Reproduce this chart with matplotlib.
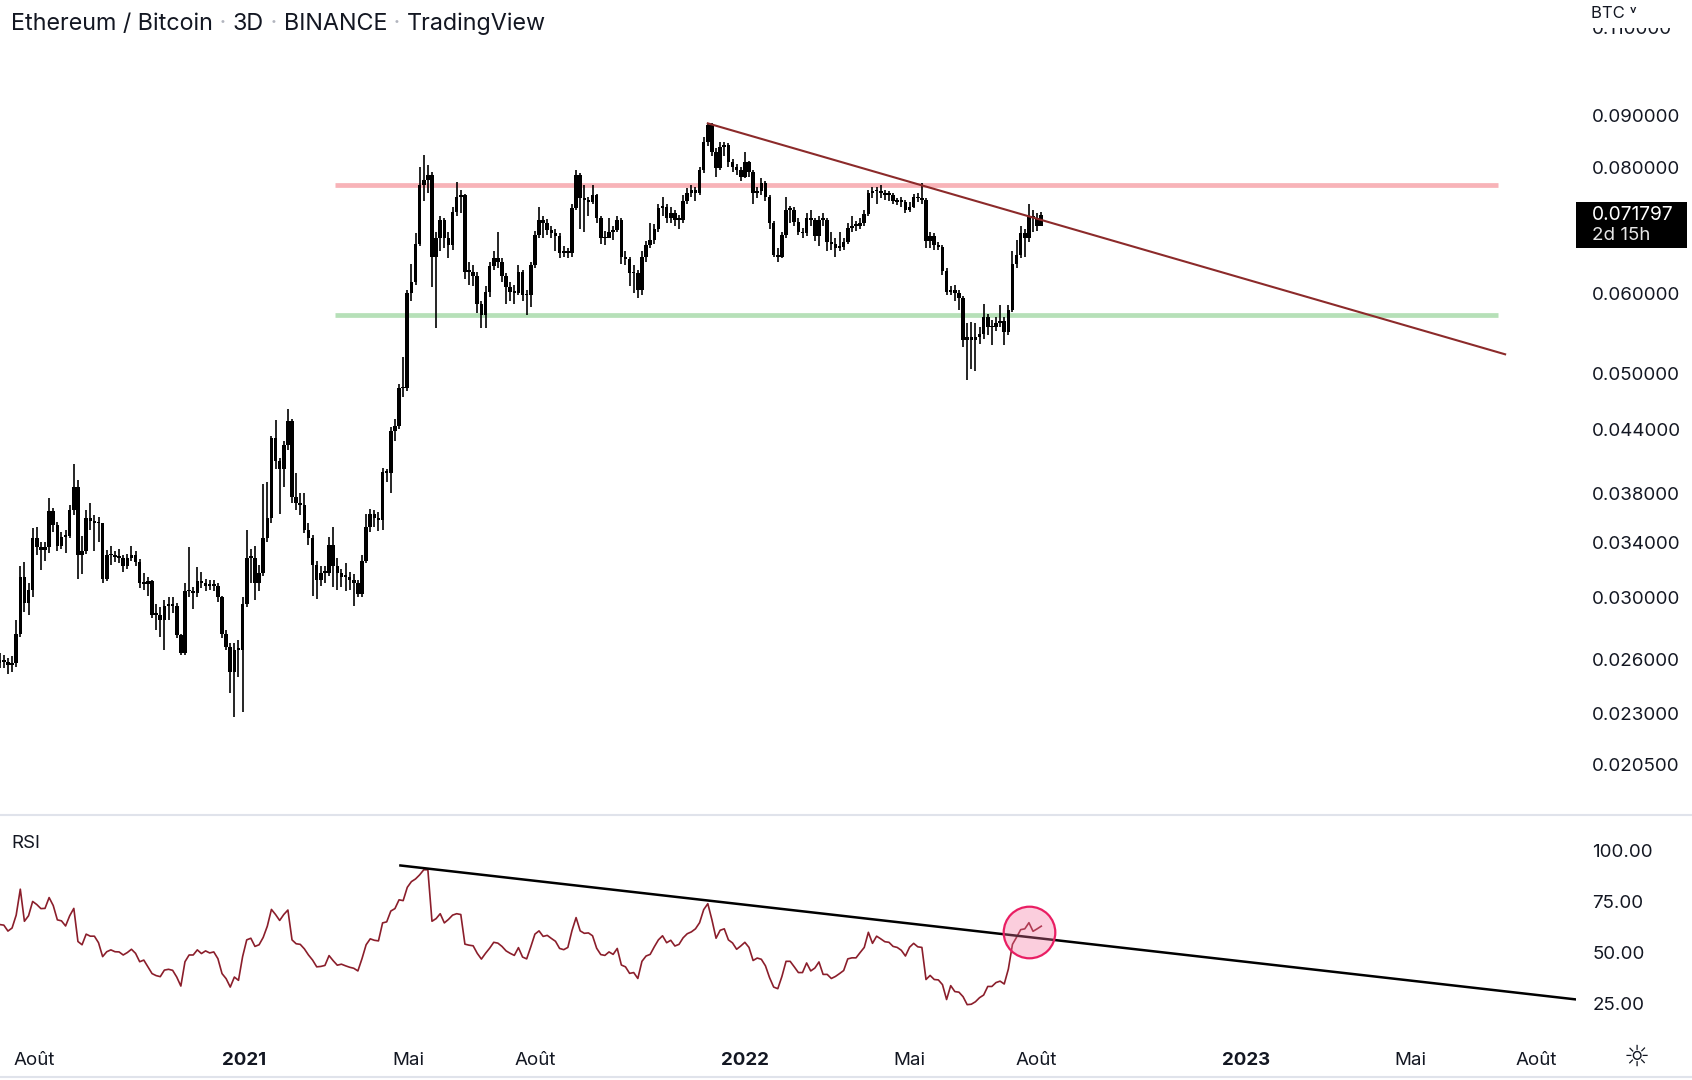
import matplotlib
matplotlib.use("Agg")
import matplotlib.pyplot as plt
import matplotlib.dates as mdates
from matplotlib.patches import Rectangle
from matplotlib.lines import Line2D
from matplotlib.ticker import NullLocator, NullFormatter
import numpy as np
import pandas as pd

plt.rcParams['font.family'] = ['Inter', 'DejaVu Sans']

# ---------------- data ----------------
first_candle = "2020-07-07"
first_open = 0.0258

closes = [
    .0260, .0259, .0257, .0258, .0276, .0314, .0296, .0305, .0343, .0336,
    .0334, .0336, .0365, .0354, .0337, .0344, .0345, .0366, .0386, .0330,
    .0333, .0359, .0357, .0355, .0355, .0313, .0330, .0330, .0329, .0328,
    .0322, .0328, .0330, .0325, .0310, .0309, .0311, .0288, .0288, .0285,
    .0294, .0294, .0294, .0275, .0264, .0304, .0304, .0303, .0311, .0310,
    .0308, .0309, .0308, .0300, .0276, .0268, .0253, .0266, .0266, .0295,
    .0328, .0328, .0310, .0317, .0343, .0359, .0431, .0409, .0402, .0424,
    .0448, .0377, .0372, .0370, .0350, .0343, .0323, .0312, .0317, .0317,
    .0338, .0322, .0317, .0314, .0314, .0312, .0310, .0302, .0326, .0352,
    .0363, .0359, .0358, .0399, .0398, .0438, .0443, .0483, .0483, .0600,
    .0616, .0672, .0768, .0777, .0786, .0652, .0680, .0709, .0680, .0670,
    .0723, .0748, .0750, .0630, .0630, .0624, .0586, .0571, .0602, .0638,
    .0650, .0645, .0624, .0609, .0602, .0600, .0630, .0598, .0597, .0640,
    .0685, .0709, .0704, .0693, .0688, .0683, .0657, .0660, .0657, .0729,
    .0786, .0745, .0743, .0739, .0751, .0712, .0680, .0681, .0690, .0693,
    .0709, .0651, .0649, .0628, .0629, .0605, .0651, .0670, .0678, .0695,
    .0729, .0731, .0712, .0721, .0709, .0709, .0741, .0754, .0760, .0754,
    .0795, .0848, .0881, .0829, .0798, .0838, .0841, .0809, .0800, .0795,
    .0783, .0809, .0791, .0754, .0757, .0771, .0748, .0704, .0655, .0651,
    .0685, .0726, .0726, .0706, .0690, .0688, .0712, .0709, .0683, .0709,
    .0709, .0674, .0672, .0665, .0667, .0674, .0697, .0700, .0700, .0704,
    .0719, .0754, .0757, .0757, .0754, .0751, .0751, .0741, .0739, .0739,
    .0726, .0731, .0747, .0745, .0743, .0676, .0683, .0670, .0667, .0631,
    .0602, .0604, .0600, .0593, .0539, .0543, .0539, .0543, .0547, .0569,
    .0555, .0555, .0561, .0563, .0549, .0578, .0642, .0655, .0688, .0680,
    .0716, .0712, .0700, .071797,
]

highs = [
    .0264, .0263, .0261, .0262, .0285, .0322, .0325, .0310, .0351, .0352,
    .0340, .0340, .0376, .0368, .0356, .0348, .0350, .0370, .0406, .0392,
    .0345, .0366, .0372, .0362, .0360, .0343, .0334, .0337, .0333, .0335,
    .0330, .0331, .0337, .0333, .0327, .0317, .0314, .0312, .0295, .0293,
    .0298, .0300, .0300, .0296, .0276, .0310, .0336, .0307, .0321, .0318,
    .0313, .0312, .0312, .0310, .0301, .0278, .0270, .0270, .0272, .0300,
    .0350, .0335, .0337, .0323, .0388, .0390, .0433, .0449, .0412, .0428,
    .0461, .0450, .0398, .0380, .0380, .0355, .0346, .0326, .0322, .0322,
    .0344, .0352, .0328, .0320, .0324, .0318, .0316, .0312, .0330, .0363,
    .0367, .0366, .0364, .0403, .0402, .0442, .0450, .0488, .0519, .0604,
    .0642, .0688, .0801, .0823, .0804, .0792, .0690, .0715, .0712, .0690,
    .0730, .0774, .0760, .0752, .0645, .0640, .0630, .0590, .0610, .0645,
    .0660, .0690, .0650, .0628, .0615, .0612, .0640, .0633, .0605, .0645,
    .0692, .0731, .0715, .0710, .0700, .0695, .0688, .0668, .0665, .0735,
    .0795, .0790, .0768, .0748, .0768, .0752, .0715, .0692, .0712, .0700,
    .0715, .0712, .0660, .0652, .0640, .0632, .0660, .0676, .0704, .0702,
    .0735, .0748, .0735, .0730, .0725, .0718, .0750, .0762, .0768, .0765,
    .0800, .0856, .0884, .0884, .0835, .0848, .0848, .0845, .0815, .0805,
    .0800, .0829, .0812, .0795, .0765, .0780, .0775, .0750, .0708, .0665,
    .0690, .0748, .0732, .0730, .0712, .0696, .0720, .0725, .0712, .0715,
    .0720, .0712, .0690, .0680, .0690, .0680, .0704, .0715, .0708, .0712,
    .0725, .0760, .0765, .0765, .0768, .0760, .0758, .0755, .0746, .0748,
    .0742, .0738, .0752, .0755, .0772, .0745, .0690, .0688, .0675, .0670,
    .0635, .0610, .0612, .0605, .0596, .0560, .0562, .0560, .0555, .0586,
    .0572, .0565, .0568, .0584, .0568, .0584, .0660, .0678, .0700, .0695,
    .0736, .0726, .0720, .0723,
]

lows = [
    .0255, .0255, .0252, .0253, .0256, .0274, .0290, .0288, .0300, .0330,
    .0319, .0326, .0332, .0348, .0333, .0335, .0332, .0343, .0362, .0313,
    .0316, .0331, .0350, .0333, .0340, .0310, .0311, .0323, .0325, .0324,
    .0318, .0320, .0326, .0322, .0306, .0305, .0301, .0286, .0278, .0274,
    .0266, .0285, .0289, .0273, .0263, .0263, .0300, .0292, .0300, .0306,
    .0304, .0305, .0304, .0297, .0273, .0266, .0241, .0228, .0250, .0231,
    .0293, .0310, .0298, .0304, .0315, .0340, .0355, .0402, .0363, .0386,
    .0420, .0372, .0366, .0362, .0347, .0338, .0301, .0299, .0308, .0310,
    .0315, .0307, .0305, .0307, .0304, .0305, .0294, .0300, .0300, .0324,
    .0348, .0352, .0349, .0350, .0390, .0380, .0428, .0440, .0474, .0480,
    .0590, .0612, .0668, .0740, .0755, .0609, .0554, .0660, .0665, .0650,
    .0662, .0715, .0720, .0620, .0612, .0610, .0573, .0554, .0554, .0595,
    .0632, .0635, .0615, .0585, .0590, .0585, .0598, .0590, .0571, .0582,
    .0635, .0680, .0680, .0685, .0680, .0660, .0650, .0652, .0650, .0652,
    .0725, .0695, .0690, .0715, .0735, .0705, .0672, .0670, .0680, .0678,
    .0690, .0642, .0640, .0610, .0600, .0593, .0598, .0645, .0665, .0672,
    .0690, .0715, .0705, .0705, .0700, .0695, .0705, .0735, .0748, .0740,
    .0750, .0790, .0840, .0820, .0783, .0795, .0820, .0800, .0791, .0786,
    .0775, .0780, .0783, .0736, .0745, .0750, .0740, .0694, .0651, .0645,
    .0650, .0680, .0704, .0700, .0686, .0680, .0684, .0700, .0676, .0668,
    .0700, .0660, .0662, .0651, .0660, .0662, .0672, .0690, .0692, .0695,
    .0700, .0715, .0745, .0735, .0745, .0742, .0740, .0735, .0733, .0730,
    .0720, .0722, .0728, .0738, .0736, .0665, .0665, .0662, .0662, .0625,
    .0598, .0598, .0590, .0578, .0531, .0492, .0505, .0503, .0535, .0540,
    .0545, .0533, .0550, .0555, .0533, .0545, .0575, .0635, .0650, .0651,
    .0675, .0690, .0692, .0700,
]

rsi = [
    63.7, 63.4, 60.5, 62.0, 68.3, 81.0, 65.3, 68.0, 75.0, 73.5,
    71.5, 71.6, 76.9, 73.0, 66.0, 65.5, 63.0, 68.0, 71.6, 55.4,
    53.8, 59.0, 58.0, 58.0, 54.8, 48.0, 50.4, 51.3, 50.4, 50.3,
    48.8, 50.0, 51.6, 49.6, 45.5, 46.3, 43.0, 39.7, 38.7, 38.2,
    41.4, 41.8, 41.3, 38.0, 33.6, 45.5, 48.8, 48.8, 51.3, 49.5,
    50.8, 49.8, 50.3, 47.0, 39.7, 37.2, 33.1, 38.0, 36.4, 48.0,
    56.2, 57.0, 53.0, 53.8, 57.4, 62.9, 71.1, 68.6, 65.7, 68.6,
    70.8, 56.2, 54.3, 54.0, 51.8, 48.8, 46.3, 43.0, 43.2, 43.7,
    48.5, 46.0, 43.8, 44.3, 43.5, 42.8, 42.3, 41.0, 47.0, 53.8,
    56.7, 56.0, 55.7, 64.5, 65.0, 70.3, 71.5, 75.8, 75.4, 81.9,
    84.7, 86.0, 88.0, 90.5, 90.5, 65.3, 66.6, 69.0, 64.5, 66.2,
    68.3, 69.0, 68.6, 54.1, 53.6, 53.3, 49.6, 46.8, 49.6, 52.1,
    55.0, 54.6, 53.0, 50.8, 49.6, 48.6, 52.4, 47.8, 46.9, 52.8,
    59.0, 60.6, 57.9, 58.4, 56.9, 55.5, 52.0, 51.4, 52.5, 60.7,
    67.1, 60.6, 59.4, 59.6, 58.2, 52.1, 49.0, 48.6, 50.3, 49.1,
    52.0, 43.9, 43.0, 39.8, 40.2, 37.3, 45.7, 48.3, 49.1, 52.8,
    56.2, 58.2, 54.8, 56.0, 53.2, 54.0, 57.2, 59.2, 60.1, 61.6,
    64.6, 71.0, 73.9, 66.0, 57.0, 60.9, 61.6, 56.2, 54.7, 51.6,
    53.2, 55.0, 52.5, 46.1, 47.3, 46.7, 43.5, 37.7, 33.1, 32.3,
    38.3, 45.7, 45.7, 43.0, 40.2, 40.2, 44.9, 41.0, 42.4, 45.4,
    39.3, 39.3, 37.3, 38.3, 39.7, 41.2, 46.9, 47.4, 47.4, 50.0,
    52.5, 59.9, 54.5, 58.0, 56.7, 55.3, 55.0, 53.0, 52.5, 51.1,
    48.3, 52.6, 54.5, 52.8, 52.5, 36.8, 38.8, 36.8, 36.6, 34.3,
    27.0, 33.8, 30.9, 30.6, 28.4, 24.5, 24.7, 25.9, 27.9, 29.2,
    33.4, 33.4, 35.3, 36.0, 34.6, 41.9, 54.0, 57.5, 61.2, 61.6,
    64.6, 60.4, 61.6, 62.9,
]

resistance = 0.0768
support = 0.0571
level_span = ["2021-03-08", "2023-07-04"]
price_trend_dates = ["2021-12-05", "2023-07-09"]
price_trend_vals = [0.0884, 0.0522]
rsi_trend_dates = ["2021-04-25", "2023-08-29"]
rsi_trend_vals = [92.6, 27.1]
rsi_circle_date = "2022-07-27"
rsi_circle_val = 60.0

price_ticks = [0.11, 0.09, 0.08, 0.06, 0.05, 0.044, 0.038, 0.034, 0.030, 0.026, 0.023, 0.0205]
rsi_ticks = [25, 50, 75, 100]
date_ticks = ["2020-08-01", "2021-01-01", "2021-05-01", "2021-08-01", "2022-01-01",
              "2022-05-01", "2022-08-01", "2023-01-01", "2023-05-01", "2023-08-01"]
date_labels = ["Août", "2021", "Mai", "Août", "2022", "Mai", "Août", "2023", "Mai", "Août"]
remaining = "2d 15h"

# ---------------- figure ----------------
n = min(len(closes), len(highs), len(lows), len(rsi))
closes, highs, lows, rsi = closes[:n], highs[:n], lows[:n], rsi[:n]
dates = pd.date_range(first_candle, periods=n, freq="3D")
x = mdates.date2num(dates)
opens = np.array([first_open] + closes[:-1])
c = np.array(closes)
hi = np.maximum(np.array(highs), np.maximum(opens, c))
lo = np.minimum(np.array(lows), np.minimum(opens, c))

W, H = 1692, 1080
TEXT = '#131722'
fig = plt.figure(figsize=(W / 100, H / 100), dpi=100)
fig.patch.set_facecolor('white')
plot_w = 1575.5
ax = fig.add_axes([0, (H - 815) / H, plot_w / W, 815 / H])
ax2 = fig.add_axes([0, (H - 1040) / H, plot_w / W, 225 / H], sharex=ax)

for a in (ax, ax2):
    for s in a.spines.values():
        s.set_visible(False)
    a.set_facecolor('white')

# candles
ax.set_yscale('log')
body_lo = np.minimum(opens, c)
body_h = np.maximum(np.abs(c - opens), body_lo * 0.004)
ax.vlines(x, lo, hi, color='black', linewidth=1.2, zorder=3)
ax.bar(x, body_h, bottom=body_lo, width=2.6, color='black', linewidth=0, zorder=3)

# levels
ls = mdates.date2num(pd.to_datetime(level_span))
ax.plot(ls, [resistance, resistance], color='#f8b3b8', lw=3.4, solid_capstyle='butt', zorder=1)
ax.plot(ls, [support, support], color='#b6e0b8', lw=3.4, solid_capstyle='butt', zorder=1)
ax.plot(mdates.date2num(pd.to_datetime(price_trend_dates)), price_trend_vals,
        color='#8c2a2a', lw=1.5, zorder=4)

ax.set_ylim(0.01825, 0.11713)
ax.yaxis.tick_right()
ax.set_yticks(price_ticks)
ax.set_yticklabels([f"{v:.6f}" for v in price_ticks])
ax.yaxis.set_minor_locator(NullLocator())
ax.yaxis.set_minor_formatter(NullFormatter())
ax.tick_params(axis='y', length=0, pad=12, labelsize=13.5, labelcolor=TEXT)
ax.tick_params(axis='x', length=0, labelbottom=False)

# RSI
ax2.plot(x, rsi, color='#8b1e2b', lw=1.2, zorder=3)
ax2.plot(mdates.date2num(pd.to_datetime(rsi_trend_dates)), rsi_trend_vals,
         color='black', lw=1.8, zorder=4)
ax2.scatter([mdates.date2num(pd.Timestamp(rsi_circle_date))], [rsi_circle_val], s=1380,
            facecolor=(0.96, 0.45, 0.62, 0.35), edgecolor='#e91e63', linewidth=1.6, zorder=5)
ax2.set_ylim(7.2, 117.3)
ax2.yaxis.tick_right()
ax2.set_yticks(rsi_ticks)
ax2.set_yticklabels([f"{v:.2f}" for v in rsi_ticks])
ax2.tick_params(axis='y', length=0, pad=12, labelsize=13.5, labelcolor=TEXT)

ax2.set_xlim(mdates.date2num(pd.Timestamp("2020-07-07 05:00")),
             mdates.date2num(pd.Timestamp("2023-08-29 07:00")))
ax2.set_xticks(mdates.date2num(pd.to_datetime(date_ticks)))
ax2.set_xticklabels(date_labels)
ax2.tick_params(axis='x', length=0, pad=8.5, labelsize=13.5, labelcolor=TEXT)
for lab in ax2.get_xticklabels():
    if lab.get_text().isdigit():
        lab.set_fontweight('bold')

# separators
fig.add_artist(Line2D([0, 1], [1 - 815 / H] * 2, color='#e0e3eb', lw=1.5))
fig.add_artist(Line2D([0, 1], [1 - 1077 / H] * 2, color='#e0e3eb', lw=1.5))

# cover the top of the clipped top label, then header currency
fig.add_artist(Rectangle((1578 / W, 1 - 28 / H), (W - 1578) / W, 28 / H,
                         transform=fig.transFigure, facecolor='white', edgecolor='none', zorder=5))
fig.text(1591 / W, 1 - 14 / H, "BTC ˅", fontsize=12, color=TEXT, va='center', ha='left', zorder=6)

# last price box
last = closes[-1]
yd = ax.transData.transform((x[-1], last))[1]
fig.add_artist(Rectangle((plot_w / W, (yd - 33.6) / H), 111.5 / W, 46.2 / H,
                         transform=fig.transFigure, facecolor='black', edgecolor='none', zorder=8))
fig.text(1592 / W, yd / H, f"{last:.6f}", fontsize=13.8, color='white', va='center', ha='left', zorder=9)
fig.text(1592 / W, (yd - 21) / H, remaining, fontsize=13.5, color='#e6e6e6', va='center', ha='left', zorder=9)

# title
t = fig.text(11 / W, 1 - 24 / H, "Ethereum / Bitcoin", fontsize=16.8, color=TEXT, va='center', ha='left')
prev = t
for piece, col in [(" · ", '#b2b5be'), ("3D", TEXT), (" · ", '#b2b5be'), ("BINANCE", TEXT),
                   (" · ", '#b2b5be'), ("TradingView", TEXT)]:
    prev = ax.annotate(piece, xy=(1, 0.5), xycoords=prev, va='center', ha='left',
                       fontsize=16.8, color=col, annotation_clip=False)

fig.text(11 / W, 1 - 843 / H, "RSI", fontsize=13.5, color=TEXT, va='center', ha='left')
fig.text(1637 / W, 1 - 1058 / H, "☼", fontsize=21, color=TEXT, va='center', ha='center',
         family='DejaVu Sans')

fig.savefig("out.png", dpi=100, facecolor='white')
